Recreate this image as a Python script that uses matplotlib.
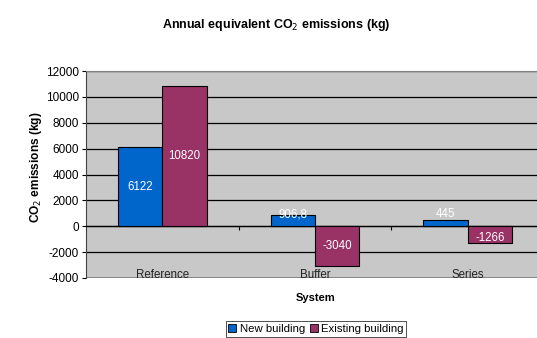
import numpy as np
import matplotlib
matplotlib.use('Agg')
import matplotlib.pyplot as plt
from matplotlib.patches import Patch

plt.rcParams['font.family'] = ['Liberation Sans', 'DejaVu Sans']
plt.rcParams['axes.unicode_minus'] = False

# Annual equivalent CO2 emissions per system (kg)
systems = ['Reference', 'Buffer', 'Series']
new_building = [6122, 906.8, 445]
existing_building = [10820, -3040, -1266]
series_names = ['New building', 'Existing building']
colors = ['#0066CC', '#993366']

fig = plt.figure(figsize=(5.37, 3.38), dpi=100)
ax = fig.add_axes([86 / 537, 1 - 278 / 338, 458 / 537, 207 / 338])
ax.set_facecolor('#C8C8C8')

x = np.arange(len(systems))
w = 0.29
for vals, off, c in [(new_building, -w / 2, colors[0]), (existing_building, w / 2, colors[1])]:
    ax.bar(x + off, vals, width=w, color=c, edgecolor='black', linewidth=0.8, zorder=3)
    for xi, v in zip(x + off, vals):
        # small bars get their label pushed out of the bar
        ypos = np.sign(v) * max(abs(v) / 2, 930)
        lab = f'{v:g}'.replace('.', ',')
        ax.text(xi, ypos, lab, color='white', fontsize=8.3, ha='center', va='center', zorder=4)

ax.set_xlim(-0.5, len(systems) - 0.5)
ax.set_ylim(-4000, 12000)
ax.set_yticks(np.arange(-4000, 12001, 2000))
ax.yaxis.grid(True, color='black', linewidth=0.9, zorder=1)
ax.set_axisbelow(True)
ax.tick_params(axis='y', labelsize=8.5, direction='out', length=3, width=0.8, pad=2)

# category axis crosses at zero
ax.spines['bottom'].set_position(('data', 0))
ax.spines['bottom'].set_linewidth(0.9)
ax.set_xticks([0.5, 1.5])
ax.set_xticklabels([])
ax.tick_params(axis='x', direction='out', length=3, width=0.8)
ax.spines['top'].set_color('#808080')
ax.spines['right'].set_visible(False)
ax.spines['left'].set_color('#404040')
ax.axhline(-4000, color='#808080', linewidth=1.2, zorder=2)

for xi, s in zip(x, systems):
    ax.text(xi, -3780, s, fontsize=8.3, ha='center', va='center', color='#222222')

fig.text(276 / 537, 1 - 25 / 338, 'Annual equivalent CO$_2$ emissions (kg)',
         fontsize=9, fontweight='bold', ha='center', va='center')
fig.text(316 / 537, 1 - 298 / 338, 'System', fontsize=8, fontweight='bold',
         ha='center', va='center')
fig.text(36 / 537, 1 - 167 / 338, 'CO$_2$ emissions (kg)', fontsize=8.6,
         fontweight='bold', rotation=90, ha='center', va='center')

handles = [Patch(facecolor=c, edgecolor='black', linewidth=0.6) for c in colors]
leg = fig.legend(handles, series_names, loc='center', bbox_to_anchor=(316 / 537, 1 - 329 / 338),
                 ncol=2, fontsize=8.2, frameon=True, fancybox=False, edgecolor='black',
                 handlelength=0.7, handleheight=0.7, handletextpad=0.3, columnspacing=0.4,
                 borderpad=0.25, borderaxespad=0)
leg.get_frame().set_linewidth(0.6)

fig.savefig('out.png', dpi=100)
